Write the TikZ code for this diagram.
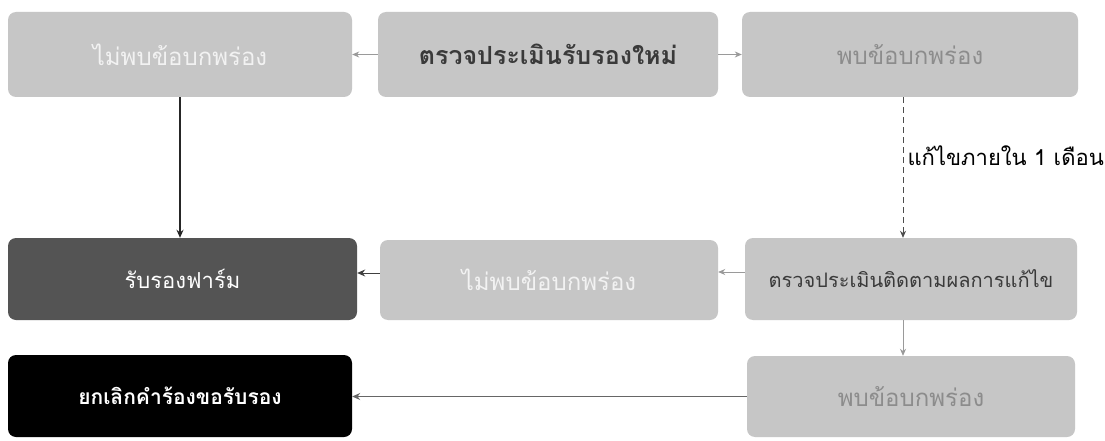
\documentclass[tikz,border=0pt]{standalone}
\usepackage{fontspec}
\newfontfamily\thai[Script=Thai]{Loma}
\usetikzlibrary{arrows.meta}
\definecolor{boxgray}{HTML}{C6C6C6}
\definecolor{darkbox}{HTML}{545454}
\definecolor{linegray}{HTML}{9A9A9A}
\definecolor{txtlight}{HTML}{F2F2F2}
\definecolor{txtmid}{HTML}{8C8C8C}
\definecolor{txtdark}{HTML}{3A3A3A}
\tikzset{
  stepbox/.style={rectangle, rounded corners=8pt, fill=boxgray, inner sep=0pt,
    font=\thai\fontsize{24}{28}\selectfont},
  graylink/.style={draw=linegray, line width=0.8pt, -{Stealth[length=7pt,width=6pt]}},
  darklink/.style={draw=black!85, line width=1.4pt, -{Stealth[length=8pt,width=7pt]}},
}
\begin{document}
\begin{tikzpicture}[x=1pt,y=-1pt]
\useasboundingbox (0,0) rectangle (1105,441);
\fill[white] (0,0) rectangle (1105,441);

% top row
\node[stepbox, minimum width=344pt, minimum height=85pt, text=txtlight] (nofault1) at (180,54.5) {ไม่พบข้อบกพร่อง};
\node[stepbox, minimum width=340pt, minimum height=85pt, text=txtdark, font=\thai\bfseries\fontsize{25}{28}\selectfont] (newaudit) at (548,54.5) {ตรวจประเมินรับรองใหม่};
\node[stepbox, minimum width=336pt, minimum height=85pt, text=txtmid] (fault1) at (910,54.5) {พบข้อบกพร่อง};

% middle row
\node[stepbox, fill=darkbox, minimum width=349pt, minimum height=82pt, text=white, font=\thai\fontsize{22}{26}\selectfont] (certify) at (182.5,279) {รับรองฟาร์ม};
\node[stepbox, minimum width=338pt, minimum height=80pt, text=txtlight] (nofault2) at (549,280) {ไม่พบข้อบกพร่อง};
\node[stepbox, minimum width=332pt, minimum height=82pt, text=txtdark, font=\thai\fontsize{20}{24}\selectfont] (followup) at (911,279) {ตรวจประเมินติดตามผลการแก้ไข};

% bottom row
\node[stepbox, fill=black, minimum width=344pt, minimum height=82pt, text=white, font=\thai\bfseries\fontsize{21}{25}\selectfont] (cancel) at (180,396) {ยกเลิกคำร้องขอรับรอง};
\node[stepbox, minimum width=328pt, minimum height=81pt, text=txtmid] (fault2) at (911,396.5) {พบข้อบกพร่อง};

% connectors
\draw[graylink] (newaudit.west) -- (nofault1.east);
\draw[graylink] (newaudit.east) -- (fault1.east -| fault1.west);
\draw[darklink] (nofault1.south) -- (certify.north -| nofault1.south);
\coordinate (fixtop) at ([xshift=-7pt]fault1.south);
\draw[graylink, draw=black!70, dashed, dash pattern=on 6pt off 4pt] (fixtop) -- (fixtop |- followup.north);
\node[anchor=west, font=\thai\fontsize{22}{26}\selectfont] (fixlabel) at (904,156) {แก้ไขภายใน 1 เดือน};
\draw[graylink] ([yshift=7pt]followup.west) -- ([yshift=7pt]followup.west -| nofault2.east);
\draw[darklink, draw=black!75, line width=1pt] ([yshift=7pt]nofault2.west) -- ([yshift=7pt]nofault2.west -| certify.east);
\coordinate (fixbot) at ([xshift=-8pt]followup.south);
\draw[graylink] (fixbot) -- (fixbot |- fault2.north);
\draw[darklink, draw=black!60, line width=1pt] (fault2.west) -- (fault2.west -| cancel.east);
\end{tikzpicture}
\end{document}
